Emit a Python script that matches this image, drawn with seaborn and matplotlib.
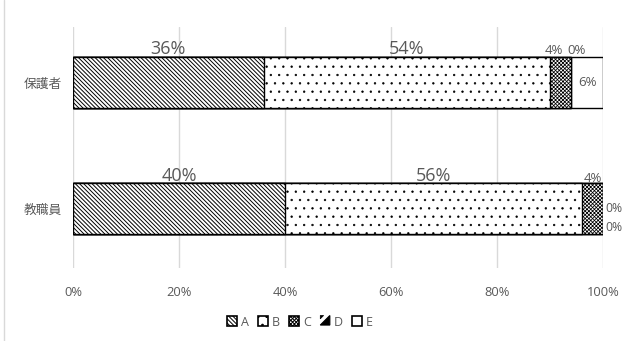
import matplotlib
matplotlib.use("Agg")
import matplotlib.pyplot as plt
from matplotlib.patches import Patch, Polygon
from matplotlib.lines import Line2D
import seaborn as sns
import pandas as pd
import numpy as np

groups = ["保護者", "教職員"]
series = ["A", "B", "C", "D", "E"]
A = [36, 40]
B = [54, 56]
C = [4, 4]
D = [0, 0]
E = [6, 0]
xticks = [0, 20, 40, 60, 80, 100]
xtick_labels = ["0%", "20%", "40%", "60%", "80%", "100%"]

values = {"A": A, "B": B, "C": C, "D": D, "E": E}
hatches = {"A": "\\" * 8, "B": "..", "C": "x" * 9, "D": "", "E": ""}
hatch_lw = {"A": 0.7, "B": 0.45, "C": 0.55, "D": 0.7, "E": 0.7}

sns.set_theme(style="white")
plt.rcParams["font.family"] = ["Open Sans", "Noto Sans CJK JP", "DejaVu Sans"]
plt.rcParams["hatch.linewidth"] = 0.7

TXT = "#595959"
GRID = "#d9d9d9"

fig = plt.figure(figsize=(6.38, 3.41), dpi=100)
ax = fig.add_axes([73 / 638, 1 - 268 / 341, 530 / 638, 241 / 341])

# cumulative ends for each segment
cum = {}
run = np.zeros(len(groups))
for s in series:
    run = run + np.array(values[s], dtype=float)
    cum[s] = run.copy()

BAR_H = 0.405
# stacked bars: draw cumulative totals from the last segment back to the first
for s in reversed(series):
    n_before = len(ax.patches)
    df = pd.DataFrame({"group": groups, "value": cum[s]})
    sns.barplot(data=df, x="value", y="group", orient="h", color="white",
                edgecolor="black", linewidth=1.0, hatch=hatches[s] or None,
                width=BAR_H, ax=ax, zorder=3, saturation=1)
    for p in ax.patches[n_before:]:
        try:
            p.set_hatch_linewidth(hatch_lw[s])
        except AttributeError:
            pass

ax.set_xlim(0, 100)
ax.set_ylim(1.47, -0.44)
ax.set_xticks(xticks)
ax.set_xticklabels(xtick_labels)
ax.set_xlabel("")
ax.set_ylabel("")
ax.tick_params(axis="x", length=0, pad=13, labelsize=9.3, labelcolor=TXT)
ax.tick_params(axis="y", length=0, pad=8, labelsize=9.2, labelcolor=TXT)
for lab in ax.get_yticklabels():
    lab.set_fontfamily(["Noto Sans CJK JP", "DejaVu Sans"])
for sp in ax.spines.values():
    sp.set_visible(False)
ax.grid(axis="x", color=GRID, linewidth=1.0, zorder=0)
ax.set_axisbelow(True)

# data labels
for gi, g in enumerate(groups):
    top = gi - BAR_H / 2
    for s in series:
        v = values[s][gi]
        start = cum[s][gi] - v
        mid = start + v / 2
        big = v >= 10
        fs = 13 if big else 9.5
        txt = f"{v}%"
        if g == "保護者" and s == "E":
            ax.text(mid, gi, txt, ha="center", va="center", fontsize=fs,
                    color=TXT, zorder=4)
        elif g == "教職員" and s in ("D", "E"):
            dy = 0.0 if s == "D" else 0.15
            ax.annotate(txt, (cum[s][gi], gi + dy), xytext=(2, 0),
                        textcoords="offset points", ha="left", va="center",
                        fontsize=8.8, color=TXT, zorder=4, annotation_clip=False)
        else:
            off = 5.5 if big else 4.5
            dx = 0
            if g == "保護者" and s == "C":
                dx = -5
            if g == "保護者" and s == "D":
                dx = 4
            if g == "教職員" and s == "C":
                off = 3.0
            ax.annotate(txt, (mid, top), xytext=(dx, off), textcoords="offset points",
                        ha="center", va="center", fontsize=fs, color=TXT, zorder=2,
                        annotation_clip=False)


class HalfTriangle:
    def legend_artist(self, legend, orig_handle, fontsize, handlebox):
        x0, y0 = handlebox.xdescent, handlebox.ydescent
        w, h = handlebox.width, handlebox.height
        s = min(w, h)
        x0 = x0 + (w - s) / 2
        tr = handlebox.get_transform()
        tri = Polygon([[x0 + s, y0], [x0 + s, y0 + s], [x0, y0]], closed=True,
                      facecolor="black", edgecolor="black", linewidth=0.8, transform=tr)
        corner = Polygon([[x0, y0 + s], [x0 + s * 0.35, y0 + s], [x0, y0 + s * 0.65]],
                         closed=True, facecolor="black", edgecolor="black",
                         linewidth=0.5, transform=tr)
        handlebox.add_artist(tri)
        handlebox.add_artist(corner)
        return tri


handles = []
for s in series:
    if s == "D":
        handles.append(Patch(facecolor="white", edgecolor="none", label=s))
    else:
        handles.append(Patch(facecolor="white", edgecolor="black", linewidth=1.2,
                             hatch=hatches[s] or None, label=s))
handler_map = {handles[3]: HalfTriangle()}
leg = fig.legend(handles=handles, labels=series, loc="center",
                 bbox_to_anchor=(300 / 638, 1 - 322 / 341), ncol=5, frameon=False,
                 fontsize=9, handlelength=0.8, handleheight=0.8, handletextpad=0.3,
                 columnspacing=0.75, handler_map=handler_map, labelcolor=TXT)

# outer chart frame line on the left
fig.add_artist(Line2D([4 / 638, 4 / 638], [0, 1], transform=fig.transFigure,
                      color=GRID, linewidth=1.0))

fig.savefig("out.png", dpi=100)
